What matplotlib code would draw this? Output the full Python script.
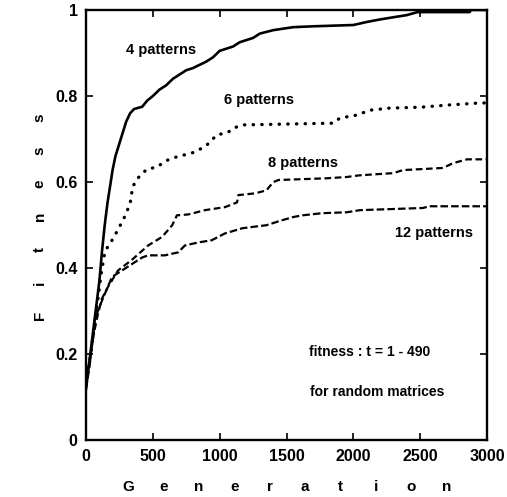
import matplotlib.pyplot as plt

plt.rcParams['font.family'] = ['Liberation Sans', 'DejaVu Sans']
plt.rcParams['font.weight'] = 'bold'

# fitness vs generation
gen4 = [0, 20, 40, 60, 80, 100, 120, 140, 160, 180, 200, 220, 240, 270, 300, 330, 360, 420,
        460, 500, 550, 600, 650, 700, 750, 800, 900, 950, 1000, 1100, 1150, 1250, 1300, 1400,
        1550, 1700, 2000, 2100, 2200, 2400, 2480, 2870, 2880, 3000]
fit4 = [0.12, 0.17, 0.22, 0.27, 0.32, 0.37, 0.44, 0.50, 0.55, 0.59, 0.63, 0.66, 0.68, 0.71,
        0.74, 0.76, 0.77, 0.775, 0.79, 0.80, 0.815, 0.825, 0.84, 0.85, 0.86, 0.865, 0.88, 0.89,
        0.905, 0.915, 0.925, 0.935, 0.945, 0.953, 0.96, 0.962, 0.965, 0.972, 0.978, 0.988,
        0.995, 0.995, 1.0, 1.0]

gen6 = [0, 20, 40, 60, 90, 115, 140, 170, 195, 240, 290, 330, 350, 390, 455, 530, 600, 690,
        760, 815, 900, 980, 1060, 1100, 1170, 1850, 1900, 2030, 2120, 2270, 2500, 2700, 2950, 3000]
fit6 = [0.13, 0.17, 0.21, 0.26, 0.33, 0.39, 0.435, 0.455, 0.465, 0.49, 0.52, 0.55, 0.59, 0.61,
        0.63, 0.635, 0.65, 0.66, 0.665, 0.67, 0.685, 0.71, 0.715, 0.725, 0.733, 0.737, 0.749,
        0.756, 0.767, 0.772, 0.774, 0.779, 0.784, 0.784]

gen8 = [0, 30, 60, 90, 120, 165, 240, 345, 465, 570, 645, 680, 765, 890, 1040, 1130, 1140,
        1265, 1350, 1400, 1440, 1800, 1950, 2050, 2300, 2370, 2670, 2745, 2850, 3000]
fit8 = [0.14, 0.19, 0.25, 0.295, 0.33, 0.357, 0.395, 0.42, 0.453, 0.473, 0.50, 0.523, 0.525,
        0.535, 0.542, 0.553, 0.570, 0.574, 0.581, 0.60, 0.605, 0.609, 0.612, 0.616, 0.621,
        0.628, 0.633, 0.644, 0.653, 0.653]

gen12 = [0, 30, 65, 100, 140, 195, 270, 345, 420, 465, 590, 690, 740, 840, 940, 1040, 1170,
         1270, 1350, 1450, 1550, 1620, 1770, 1950, 2050, 2520, 2570, 3000]
fit12 = [0.12, 0.18, 0.28, 0.31, 0.34, 0.38, 0.395, 0.41, 0.425, 0.43, 0.43, 0.437, 0.453,
         0.46, 0.465, 0.481, 0.493, 0.497, 0.50, 0.51, 0.519, 0.523, 0.528, 0.530, 0.535,
         0.540, 0.544, 0.544]

xticks = [0, 500, 1000, 1500, 2000, 2500, 3000]
yticks = [0, 0.2, 0.4, 0.6, 0.8, 1]
ytick_labels = ['0', '0.2', '0.4', '0.6', '0.8', '1']

fig = plt.figure(figsize=(5.07, 4.97), dpi=100)
ax = fig.add_axes([0.1696, 0.1137, 0.791, 0.8663])

ax.plot(gen4, fit4, color='black', lw=1.9)
ax.plot(gen6, fit6, color='black', lw=2.4, linestyle=(0, (0.1, 2.5)), dash_capstyle='round')
ax.plot(gen8, fit8, color='black', lw=1.6, linestyle=(0, (3, 1.6)))
ax.plot(gen12, fit12, color='black', lw=1.6, linestyle=(0, (3.4, 1.4)))

ax.text(300, 0.907, '4 patterns', fontsize=10.5, va='center')
ax.text(1030, 0.791, '6 patterns', fontsize=10.5, va='center')
ax.text(1360, 0.644, '8 patterns', fontsize=10.5, va='center')
ax.text(2310, 0.481, '12 patterns', fontsize=10.5, va='center')
ax.text(1668, 0.205, 'fitness : t = 1 - 490', fontsize=10, va='center')
ax.text(1675, 0.112, 'for random matrices', fontsize=10, va='center')

ax.set_xlim(0, 3000)
ax.set_ylim(0, 1)
ax.set_xticks(xticks)
ax.set_xticklabels([str(t) for t in xticks])
ax.set_yticks(yticks)
ax.set_yticklabels(ytick_labels)
ax.tick_params(direction='in', length=5, width=1.2, top=True, right=True,
               labelsize=11.5, pad=6)
for s in ax.spines.values():
    s.set_linewidth(1.7)

# spaced-out axis labels
xlab = 'Generation'
for i, ch in enumerate(xlab):
    ax.text(0.105 + i * (0.900 - 0.105) / (len(xlab) - 1), -0.109, ch,
            transform=ax.transAxes, ha='center', va='center', fontsize=11)
ylab = 'Fitness'
for i, ch in enumerate(ylab):
    ax.text(-0.115, 0.291 + i * (0.749 - 0.291) / (len(ylab) - 1), ch,
            transform=ax.transAxes, ha='center', va='center', fontsize=11, rotation=90)

fig.savefig('out.png', dpi=100)
